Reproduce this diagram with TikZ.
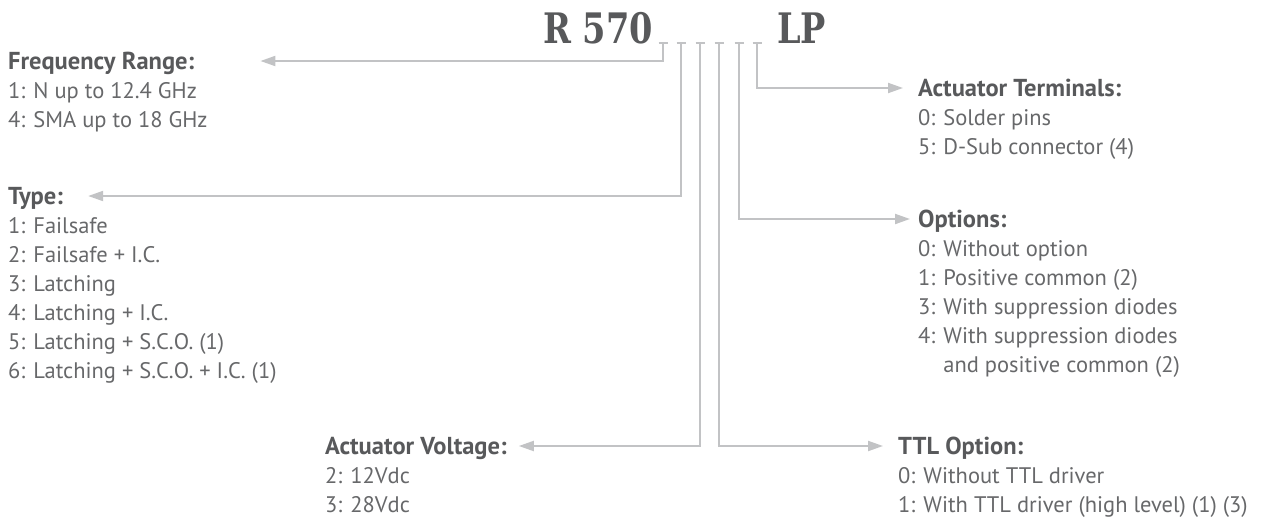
\documentclass[tikz,border=0pt]{standalone}
\usepackage{fontspec}
\setmainfont{PT Sans}
\newfontfamily\slabfont[FakeStretch=0.8]{DejaVu Serif}
\usetikzlibrary{arrows.meta,positioning}

\definecolor{headgray}{HTML}{58595B}
\definecolor{bodygray}{HTML}{67686A}
\definecolor{linegray}{HTML}{C2C3C5}

\tikzset{
  head/.style={anchor=west,inner sep=0pt,text height=17pt,text depth=0pt,
    font=\fontsize{24.5}{24.5}\selectfont\bfseries,text=headgray},
  items/.style={inner sep=0pt,align=left,
    font=\fontsize{22.5}{29}\selectfont,text=bodygray},
  code/.style={anchor=base west,inner sep=0pt,
    font=\slabfont\bfseries\fontsize{42}{42}\selectfont,text=headgray},
  lead/.style={draw=linegray,line width=2pt,-{Triangle[length=15pt,width=10pt]}},
  tickbar/.style={draw=linegray,line width=2pt},
}

\begin{document}
\begin{tikzpicture}[x=1pt,y=-1pt]
  \useasboundingbox (0,0) rectangle (1263,520);

  % part number
  \node[code] (model) at (543,43) {R 570};
  \node[code] (suffix) at (777,43) {LP};

  % one tick per free position
  \foreach \n/\x in {1/663,2/681,3/700,4/719,5/739,6/757}{
    \coordinate (t\n) at (\x,43);
    \draw[tickbar] ([xshift=-4.5pt]t\n) -- ([xshift=4.5pt]t\n);
  }

  % left side
  \node[head] (freq) at (8,61) {Frequency Range:};
  \node[items,below right=12.5pt and 0pt of freq.south west] (freqlist)
    {1: N up to 12.4 GHz\\4: SMA up to 18 GHz};

  \node[head] (type) at (8,196) {Type:};
  \node[items,below right=12.5pt and 0pt of type.south west] (typelist)
    {1: Failsafe\\2: Failsafe + I.C.\\3: Latching\\4: Latching + I.C.\\
     5: Latching + S.C.O. (1)\\6: Latching + S.C.O. + I.C. (1)};

  \node[head] (volt) at (325,446) {Actuator Voltage:};
  \node[items,below right=12.5pt and 0pt of volt.south west] (voltlist)
    {2: 12Vdc\\3: 28Vdc};

  % right side
  \node[head] (term) at (918,88) {Actuator Terminals:};
  \node[items,below right=12.5pt and 0pt of term.south west] (termlist)
    {0: Solder pins\\5: D-Sub connector (4)};

  \node[head] (opts) at (918,219) {Options:};
  \node[items,below right=12.5pt and 0pt of opts.south west] (optslist)
    {0: Without option\\1: Positive common (2)\\3: With suppression diodes\\
     4: With suppression diodes\\\phantom{4: }and positive common (2)};

  \node[head] (ttl) at (898,446) {TTL Option:};
  \node[items,below right=12.5pt and 0pt of ttl.south west] (ttllist)
    {0: Without TTL driver\\1: With TTL driver (high level) (1) (3)};

  % leaders
  \draw[lead] (t1) |- ([xshift=66pt]freq.east);
  \draw[lead] (t2) |- ([xshift=25pt]type.east);
  \draw[lead] (t3) |- ([xshift=12pt]volt.east);
  \draw[lead] (t4) |- ([xshift=-15pt]ttl.west);
  \draw[lead] (t5) |- ([xshift=-8pt]opts.west);
  \draw[lead] (t6) |- ([xshift=-15pt]term.west);
\end{tikzpicture}
\end{document}
